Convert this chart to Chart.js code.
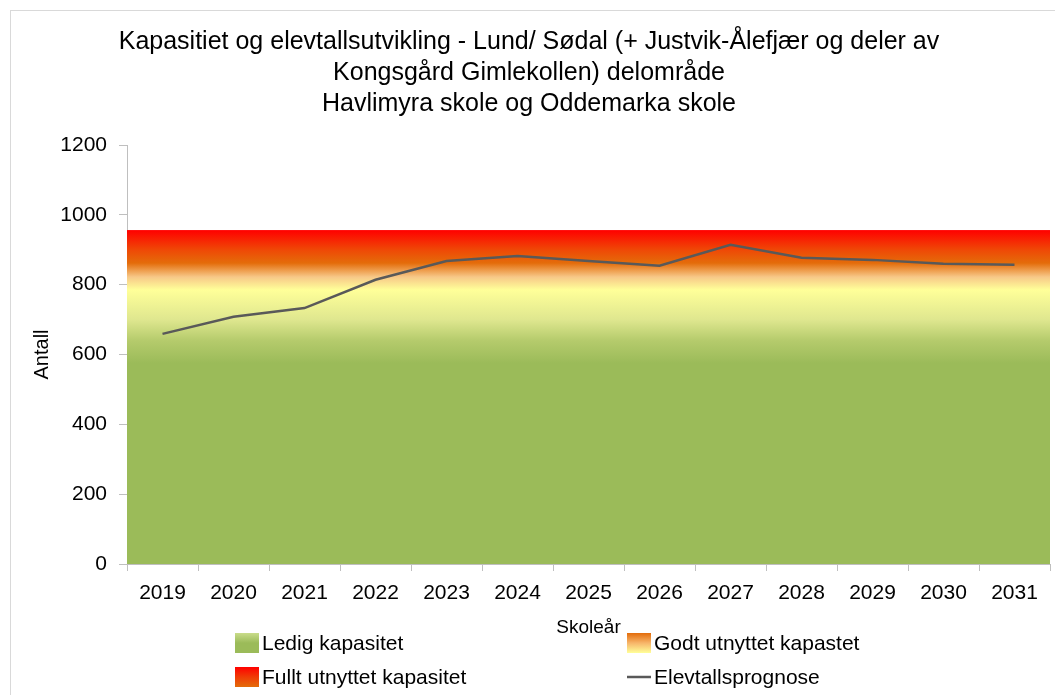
<!DOCTYPE html>
<html>
<head>
    <title>Kapasitet og elevtallsutvikling - Lund/ Sødal</title>
    <meta charset="utf-8">
    <style>
        html, body {
            margin: 0;
            padding: 0;
            background-color: #fff;
            overflow: hidden;
        }
        .frame {
            position: absolute;
            left: 10px;
            top: 10px;
            width: 1200px;
            height: 900px;
            border: 1px solid #d9d9d9;
            pointer-events: none;
        }
        .chart-box {
            position: relative;
            width: 1055px;
            height: 695px;
        }
    </style>
</head>
<body>
    <div class="chart-box">
        <canvas id="capacity-chart"></canvas>
    </div>
    <div class="frame"></div>

    <script src="https://cdn.jsdelivr.net/npm/chart.js"></script>
    <script>
        // Skoleår on the x axis
        const years = ["2019", "2020", "2021", "2022", "2023", "2024", "2025",
                       "2026", "2027", "2028", "2029", "2030", "2031"];

        // Elevtallsprognose
        const prognosis = [659, 708, 733, 814, 868, 882, 868, 854, 914, 877, 871, 860, 857];

        // Capacity bands, stacked on top of each other
        const freeCapacity = [765, 765, 765, 765, 765, 765, 765, 765, 765, 765, 765, 765, 765];
        const goodCapacity = [100, 100, 100, 100, 100, 100, 100, 100, 100, 100, 100, 100, 100];
        const fullCapacity = [91, 91, 91, 91, 91, 91, 91, 91, 91, 91, 91, 91, 91];

        const titleLines = [
            "Kapasitiet og elevtallsutvikling - Lund/ Sødal (+ Justvik-Ålefjær og deler av",
            "Kongsgård Gimlekollen) delområde",
            "Havlimyra skole og Oddemarka skole"
        ];

        const FONT = "'Liberation Sans', Arial, sans-serif";

        // one gradient over the whole band, stops in data units
        const bandStops = [
            [0, "#9bbb59"],
            [575, "#9bbb59"],
            [640, "#b5cb6c"],
            [700, "#dfe78f"],
            [785, "#ffff99"],
            [822, "#f7c888"],
            [862, "#e46c0a"],
            [900, "#ef4806"],
            [956, "#ff0000"]
        ];

        function bandGradient(context) {
            const chart = context.chart;
            const area = chart.chartArea;
            if (!area) return "#9bbb59";
            const y = chart.scales.y;
            const top = bandStops[bandStops.length - 1][0];
            const g = chart.ctx.createLinearGradient(0, y.getPixelForValue(0), 0, y.getPixelForValue(top));
            bandStops.forEach(([v, c]) => g.addColorStop(v / top, c));
            return g;
        }

        // legend keys drawn 2 x 2, like the original
        const legendKeys = [
            { text: "Ledig kapasitet", col: 0, row: 0, colors: ["#c9dc8a", "#9bbb59", "#9bbb59"] },
            { text: "Godt utnyttet kapastet", col: 1, row: 0, colors: ["#e36c0a", "#f7b56a", "#ffff99"] },
            { text: "Fullt utnyttet kapasitet", col: 0, row: 1, colors: ["#ff0000", "#f03c06", "#e36c0a"] },
            { text: "Elevtallsprognose", col: 1, row: 1, line: "#595959" }
        ];

        const gridLegend = {
            id: "gridLegend",
            afterDraw(chart) {
                const ctx = chart.ctx;
                const left = chart.chartArea.left;
                ctx.save();
                ctx.font = "21px " + FONT;
                ctx.textBaseline = "middle";
                ctx.fillStyle = "#000";
                legendKeys.forEach(k => {
                    const x = left + 108 + k.col * 392;
                    const y = 643 + k.row * 34;
                    if (k.line) {
                        ctx.strokeStyle = k.line;
                        ctx.lineWidth = 2.5;
                        ctx.beginPath();
                        ctx.moveTo(x, y);
                        ctx.lineTo(x + 24, y);
                        ctx.stroke();
                    } else {
                        const g = ctx.createLinearGradient(0, y - 10, 0, y + 10);
                        k.colors.forEach((c, i) => g.addColorStop(i / (k.colors.length - 1), c));
                        ctx.fillStyle = g;
                        ctx.fillRect(x, y - 10, 24, 20);
                        ctx.fillStyle = "#000";
                    }
                    ctx.fillText(k.text, x + 27, y + 1);
                });
                ctx.restore();
            }
        };

        const ctx = document.getElementById("capacity-chart").getContext("2d");
        new Chart(ctx, {
            type: "line",
            data: {
                labels: years,
                datasets: [
                    {
                        label: "Ledig kapasitet",
                        data: freeCapacity,
                        xAxisID: "xBand",
                        stack: "band",
                        fill: "origin",
                        backgroundColor: bandGradient,
                        borderWidth: 0,
                        pointRadius: 0,
                        order: 3
                    },
                    {
                        label: "Godt utnyttet kapastet",
                        data: goodCapacity,
                        xAxisID: "xBand",
                        stack: "band",
                        fill: "-1",
                        backgroundColor: bandGradient,
                        borderWidth: 0,
                        pointRadius: 0,
                        order: 2
                    },
                    {
                        label: "Fullt utnyttet kapasitet",
                        data: fullCapacity,
                        xAxisID: "xBand",
                        stack: "band",
                        fill: "-1",
                        backgroundColor: bandGradient,
                        borderWidth: 0,
                        pointRadius: 0,
                        order: 1
                    },
                    {
                        label: "Elevtallsprognose",
                        data: prognosis,
                        xAxisID: "x",
                        stack: "prognosis",
                        borderColor: "#595959",
                        borderWidth: 2.5,
                        pointRadius: 0,
                        fill: false,
                        tension: 0,
                        order: 0
                    }
                ]
            },
            options: {
                responsive: true,
                maintainAspectRatio: false,
                animation: false,
                layout: {
                    padding: { left: 8, right: 5, top: 27, bottom: 56 }
                },
                plugins: {
                    legend: { display: false },
                    tooltip: { enabled: false },
                    title: {
                        display: true,
                        text: titleLines,
                        color: "#000",
                        font: { family: FONT, size: 25, weight: "normal", lineHeight: 1.24 },
                        padding: { top: 0, bottom: 25 }
                    }
                },
                scales: {
                    x: {
                        offset: true,
                        grid: {
                            offset: true,
                            drawOnChartArea: false,
                            tickLength: 7,
                            color: "#bfbfbf"
                        },
                        border: { color: "#bfbfbf" },
                        ticks: {
                            color: "#000",
                            font: { family: FONT, size: 21 },
                            maxRotation: 0,
                            padding: 10
                        },
                        title: {
                            display: true,
                            text: "Skoleår",
                            color: "#000",
                            font: { family: FONT, size: 19 },
                            padding: { top: 0, bottom: 0 }
                        }
                    },
                    xBand: {
                        type: "category",
                        display: false,
                        offset: false
                    },
                    y: {
                        stacked: true,
                        min: 0,
                        max: 1200,
                        afterFit: scale => { scale.width = 119; },
                        ticks: {
                            stepSize: 200,
                            color: "#000",
                            font: { family: FONT, size: 21 },
                            padding: 12,
                            callback: v => String(v)
                        },
                        grid: {
                            drawOnChartArea: false,
                            tickLength: 8,
                            color: "#bfbfbf"
                        },
                        border: { color: "#bfbfbf" },
                        title: {
                            display: true,
                            text: "Antall",
                            color: "#000",
                            font: { family: FONT, size: 20 },
                            padding: { top: 22, bottom: 0 }
                        }
                    }
                }
            },
            plugins: [gridLegend]
        });
    </script>
</body>
</html>
